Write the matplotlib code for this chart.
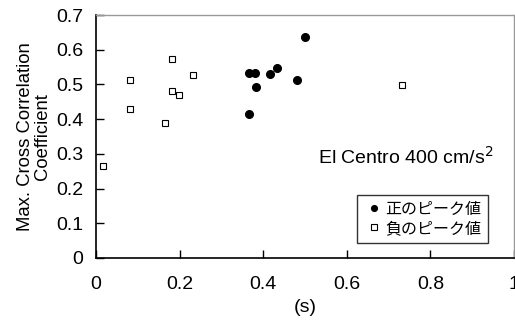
"""
Max. cross correlation coefficient vs time lag, El Centro 400 cm/s^2.
"""

import matplotlib
matplotlib.use('Agg')
import matplotlib.pyplot as plt

# Positive peak values (filled circles)
pos_x = [0.365, 0.381, 0.383, 0.365, 0.416, 0.432, 0.482, 0.500]
pos_y = [0.534, 0.534, 0.492, 0.415, 0.531, 0.547, 0.513, 0.636]

# Negative peak values (open squares)
neg_x = [0.016, 0.082, 0.082, 0.165, 0.182, 0.182, 0.199, 0.231, 0.733]
neg_y = [0.266, 0.513, 0.430, 0.388, 0.574, 0.481, 0.470, 0.528, 0.498]

x_ticks = [0, 0.2, 0.4, 0.6, 0.8, 1]
x_tick_labels = ['0', '0.2', '0.4', '0.6', '0.8', '1']
y_ticks = [0, 0.1, 0.2, 0.3, 0.4, 0.5, 0.6, 0.7]
y_tick_labels = ['0', '0.1', '0.2', '0.3', '0.4', '0.5', '0.6', '0.7']


def main():

    plt.rcParams['font.family'] = ['Liberation Sans', 'Noto Sans CJK JP']

    fig = plt.figure(figsize=(5.15, 3.27), dpi=100)
    ax = fig.add_axes([96 / 515, 1 - 258 / 327, 418 / 515, 243 / 327])

    ax.plot(pos_x, pos_y, 'o', color='black', markersize=5.5,
            label='正のピーク値', clip_on=False)
    ax.plot(neg_x, neg_y, 's', markerfacecolor='white',
            markeredgecolor='black', markeredgewidth=0.8, markersize=5,
            label='負のピーク値', clip_on=False)

    ax.set_xlim(0, 1)
    ax.set_ylim(0, 0.7)
    ax.set_xticks(x_ticks)
    ax.set_xticklabels(x_tick_labels)
    ax.set_yticks(y_ticks)
    ax.set_yticklabels(y_tick_labels)
    ax.tick_params(direction='in', length=6, width=1, labelsize=14)
    ax.tick_params(axis='x', pad=13)
    ax.tick_params(axis='y', pad=9)

    for side in ('top', 'right'):
        ax.spines[side].set_color('#999999')
        ax.spines[side].set_linewidth(1)
    for side in ('left', 'bottom'):
        ax.spines[side].set_linewidth(1.2)

    ax.set_xlabel('(s)', fontsize=14, labelpad=4)
    ax.set_ylabel('Max. Cross Correlation\nCoefficient', fontsize=13.3,
                  linespacing=1.0)
    ax.yaxis.set_label_coords(-0.108, 0.5)

    ax.text(0.95, 0.416, 'El Centro 400 cm/s$^2$', transform=ax.transAxes,
            ha='right', va='center', fontsize=14)

    leg = ax.legend(loc='lower right', bbox_to_anchor=(0.938, 0.062),
                    fontsize=11.5, frameon=True, fancybox=False,
                    edgecolor='black', handlelength=1.2, handletextpad=0.1,
                    borderpad=0.45, labelspacing=0.25, markerscale=0.75,
                    borderaxespad=0)
    leg.get_frame().set_linewidth(1)

    fig.savefig('out.png', dpi=100)


if __name__ == '__main__':
    main()
